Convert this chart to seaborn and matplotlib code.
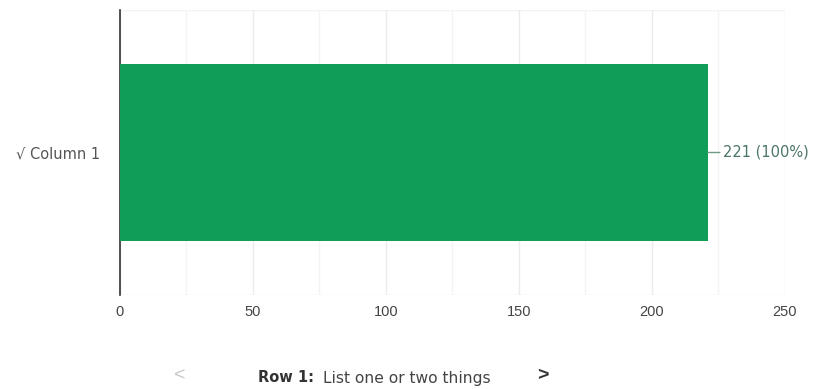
import matplotlib
matplotlib.use("Agg")
import matplotlib.pyplot as plt
import seaborn as sns
import pandas as pd

categories = ["\u221a Column 1"]
counts = [221]
percents = [100]
x_ticks = [0, 50, 100, 150, 200, 250]
row_title = "Row 1:"
row_text = "List one or two things"

sns.set_theme(style="white")
plt.rcParams["font.family"] = ["Liberation Sans", "DejaVu Sans"]
wide = ["DejaVu Sans"]

df = pd.DataFrame({"category": categories, "count": counts})

fig = plt.figure(figsize=(8.16, 3.89), dpi=100)
ax = fig.add_axes([0.147, 0.242, 0.815, 0.732])

sns.barplot(data=df, x="count", y="category", orient="h", color="#0f9d58",
            width=0.62, saturation=1, edgecolor="none", linewidth=0, ax=ax, zorder=3)

ax.set_xlim(0, 250)
ax.set_ylim(0.5, -0.5)
ax.set_xticks(x_ticks)
ax.set_xticks(range(25, 250, 50), minor=True)
ax.grid(axis="x", which="major", color="#ebebeb", linewidth=1, zorder=0)
ax.grid(axis="x", which="minor", color="#f4f4f4", linewidth=1, zorder=0)
ax.tick_params(axis="both", length=0, colors="#444444")
ax.tick_params(axis="x", pad=7, labelsize=10.5)
ax.tick_params(axis="y", pad=14)
for lab in ax.get_yticklabels():
    lab.set_fontfamily(wide)
    lab.set_fontsize(10.5)
    lab.set_color("#555555")
ax.set_xlabel("")
ax.set_ylabel("")
for side in ["top", "right", "bottom"]:
    ax.spines[side].set_visible(False)
ax.spines["left"].set_color("#333333")
ax.spines["left"].set_linewidth(1.2)
ax.axhline(0.5, color="#eeeeee", linewidth=1, zorder=0)
ax.axhline(-0.5, color="#f4f4f4", linewidth=1, zorder=0)

for i, (c, p) in enumerate(zip(counts, percents)):
    ax.annotate(f"{c} ({p}%)", xy=(c, i), xytext=(11, 0), textcoords="offset points",
                va="center", ha="left", fontsize=10.5, family=wide, color="#4a7563",
                arrowprops=dict(arrowstyle="-", color="#6f9a86", lw=1,
                                shrinkA=0, shrinkB=0))

fig.text(180 / 816, 1 - 376 / 389, "<", fontsize=14, color="#c8c8c8", ha="center", va="center")
fig.text(258 / 816, 1 - 378 / 389, row_title, fontsize=10.5, fontweight="bold",
         family=wide, color="#333333", ha="left", va="center")
fig.text(323 / 816, 1 - 378 / 389, row_text, fontsize=11.2, family=wide,
         color="#444444", ha="left", va="center")
fig.text(543 / 816, 1 - 376 / 389, ">", fontsize=14, color="#333333", ha="center",
         va="center", fontweight="bold")

fig.savefig("out.png", dpi=100, facecolor="white")
